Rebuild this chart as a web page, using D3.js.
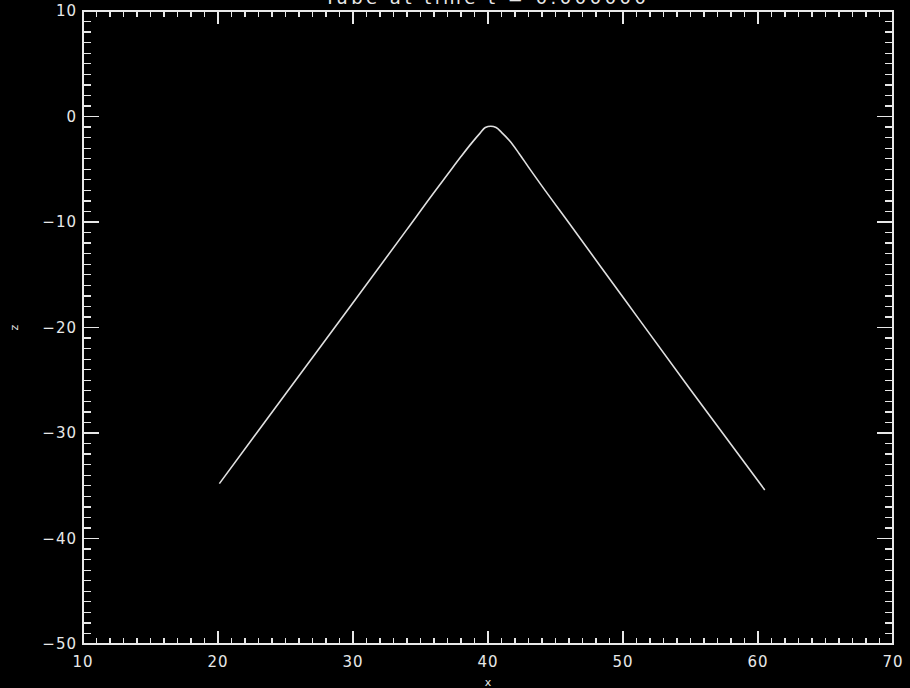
<!DOCTYPE html>
<html><head><meta charset="utf-8">
<script src="https://cdn.jsdelivr.net/npm/d3@7"></script>
<style>
html,body{margin:0;padding:0;background:#000;}
svg{display:block;}
text{font-family:"DejaVu Sans",sans-serif;fill:#e8e8e8;}
</style></head>
<body>
<script>
const titleText = "Tube at time t = 0.000000";
const xLabel = "x";
const yLabel = "z";
const xTickValues = [10,20,30,40,50,60,70];
const yTickValues = [-50,-40,-30,-20,-10,0,10];
const xValues = [20.1,25,30.15,34,36,37,38,38.8,39.4,39.8,40.2,40.6,41,41.6,42.3,43,44,46,50.15,55,60.5];
const zValues = [-34.8,-26.3,-17.4,-10.7,-7.2,-5.5,-3.8,-2.5,-1.6,-1.05,-0.92,-1.05,-1.5,-2.3,-3.5,-4.8,-6.6,-10.1,-17.4,-25.9,-35.4];

const W=910,H=688;
const L=83,R=893,T=11,B=644;
const xs=d3.scaleLinear().domain([10,70]).range([L,R]);
const ys=d3.scaleLinear().domain([-50,10]).range([B,T]);
const svg=d3.select("body").append("svg").attr("width",W).attr("height",H);
svg.append("rect").attr("width",W).attr("height",H).attr("fill","#000");

const minorX=d3.range(10,71,1), minorY=d3.range(-50,11,1);
const stroke="#e8e8e8";
const g=svg.append("g").attr("stroke",stroke).attr("stroke-width",1.3).attr("shape-rendering","crispEdges");
g.append("rect").attr("x",L).attr("y",T).attr("width",R-L).attr("height",B-T).attr("fill","none");
minorX.forEach(v=>{
  const major=v%10===0; const len=major?13:6; const px=xs(v);
  g.append("line").attr("x1",px).attr("x2",px).attr("y1",B).attr("y2",B-len);
  g.append("line").attr("x1",px).attr("x2",px).attr("y1",T).attr("y2",T+len);
});
minorY.forEach(v=>{
  const major=v%10===0; const len=major?16:8; const py=ys(v);
  g.append("line").attr("y1",py).attr("y2",py).attr("x1",L).attr("x2",L+len);
  g.append("line").attr("y1",py).attr("y2",py).attr("x1",R).attr("x2",R-len);
});
svg.append("g").selectAll("text").data(xTickValues).join("text")
  .attr("x",d=>xs(d)).attr("y",667).attr("text-anchor","middle")
  .attr("font-size",15).attr("letter-spacing",1).text(d=>String(d));
svg.append("g").selectAll("text").data(yTickValues).join("text")
  .attr("x",77).attr("y",d=>ys(d)+5).attr("text-anchor","end")
  .attr("font-size",15).attr("letter-spacing",1).text(d=>d<0?"\u2212"+Math.abs(d):String(d));
svg.append("text").attr("x",(L+R)/2).attr("y",686).attr("text-anchor","middle").attr("font-size",11).text(xLabel);
svg.append("text").attr("transform","translate(18,"+((T+B)/2)+") rotate(-90)").attr("text-anchor","middle").attr("font-size",11).text(yLabel);
svg.append("text").attr("x",487).attr("y",4).attr("text-anchor","middle").attr("font-size",18).attr("letter-spacing",3.5).text(titleText);
const pts=xValues.map((v,i)=>[v,zValues[i]]);
svg.append("path").datum(pts).attr("fill","none").attr("stroke","#e0e0e0").attr("stroke-width",1.6)
  .attr("d",d3.line().x(d=>xs(d[0])).y(d=>ys(d[1])).curve(d3.curveMonotoneX));
</script>
</body></html>
